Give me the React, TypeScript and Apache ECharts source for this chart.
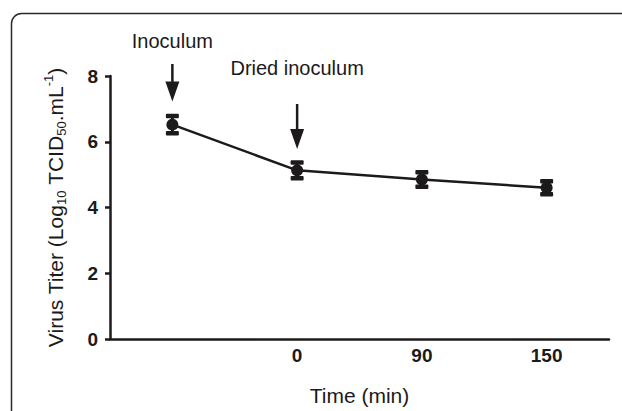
import React, { useEffect, useRef } from "react";
import * as echarts from "echarts";

// ---- data ----
const categories = ["", "0", "90", "150"];
const titerMean = [6.52, 5.13, 4.85, 4.6];
const titerError = [0.26, 0.24, 0.22, 0.2];
const yMin = 0;
const yMax = 8;
const yInterval = 2;
const annotationLabels = ["Inoculum", "Dried inoculum"];
const annotationCategory = [0, 1];

const INK = "#1c1a1a";
const FONT = "'Liberation Sans', Arial, Helvetica, sans-serif";

export default function App() {
  const ref = useRef<HTMLDivElement>(null);

  useEffect(() => {
    const chart = echarts.init(ref.current!, null, { renderer: "svg" });
    const errorData = categories.map((_, i) => [
      i,
      titerMean[i] - titerError[i],
      titerMean[i] + titerError[i],
    ]);

    chart.setOption({
      animation: false,
      backgroundColor: "#ffffff",
      grid: { left: 110, right: 13, top: 76, bottom: 68 },
      xAxis: {
        type: "category",
        data: categories,
        boundaryGap: true,
        name: "Time (min)",
        nameLocation: "middle",
        nameGap: 46,
        nameTextStyle: { fontFamily: FONT, fontSize: 21, color: INK },
        axisLine: { lineStyle: { color: INK, width: 2.5 } },
        axisTick: {
          alignWithLabel: true,
          length: 7,
          lineStyle: { color: INK, width: 2.5 },
          interval: (index: number) => index > 0,
        },
        axisLabel: {
          interval: 0,
          margin: 7,
          fontFamily: FONT,
          fontSize: 19,
          fontWeight: "bold",
          color: INK,
        },
        splitLine: { show: false },
      },
      yAxis: {
        type: "value",
        min: yMin,
        max: yMax,
        interval: yInterval,
        name: "Virus Titer (Log{sub|10} TCID{sub|50}.mL{sup|-1})",
        nameLocation: "middle",
        nameGap: 42,
        nameRotate: 90,
        nameTextStyle: {
          fontFamily: FONT,
          fontSize: 21,
          color: INK,
          lineHeight: 26,
          rich: {
            sub: {
              fontFamily: FONT,
              fontSize: 13,
              lineHeight: 13,
              color: INK,
              verticalAlign: "bottom",
            },
            sup: {
              fontFamily: FONT,
              fontSize: 13,
              lineHeight: 13,
              color: INK,
              verticalAlign: "top",
            },
          },
        },
        axisLine: { show: true, lineStyle: { color: INK, width: 2.5 } },
        axisTick: { show: true, length: 5, lineStyle: { color: INK, width: 2.5 } },
        axisLabel: {
          margin: 12,
          fontFamily: FONT,
          fontSize: 19,
          fontWeight: "bold",
          color: INK,
        },
        splitLine: { show: false },
      },
      series: [
        {
          type: "line",
          data: titerMean,
          symbol: "circle",
          symbolSize: 12,
          itemStyle: { color: INK },
          lineStyle: { color: INK, width: 2.5 },
          z: 3,
        },
        {
          type: "custom",
          data: errorData,
          encode: { x: 0, y: [1, 2] },
          z: 4,
          renderItem: (params: any, api: any) => {
            const lo = api.coord([api.value(0), api.value(1)]);
            const hi = api.coord([api.value(0), api.value(2)]);
            const x = lo[0];
            const capW = 13;
            const capH = 4.5;
            return {
              type: "group",
              children: [
                {
                  type: "line",
                  shape: { x1: x, y1: lo[1], x2: x, y2: hi[1] },
                  style: { stroke: INK, lineWidth: 3 },
                },
                {
                  type: "rect",
                  shape: { x: x - capW / 2, y: hi[1] - capH / 2, width: capW, height: capH, r: 1 },
                  style: { fill: INK },
                },
                {
                  type: "rect",
                  shape: { x: x - capW / 2, y: lo[1] - capH / 2, width: capW, height: capH, r: 1 },
                  style: { fill: INK },
                },
              ],
            };
          },
        },
      ],
    });

    // annotations: arrows + labels placed above the first two points
    const arrowTops = [64, 104];
    const arrowTips = [101.5, 149];
    const labelCenters = [40.5, 68];
    const elements: any[] = [
      {
        type: "rect",
        z: -1,
        shape: { x: 11.5, y: 13.5, width: 700, height: 500, r: 10 },
        style: { fill: "none", stroke: "#2a2a2a", lineWidth: 1.5 },
        silent: true,
      },
    ];
    annotationLabels.forEach((label, k) => {
      const px = chart.convertToPixel({ seriesIndex: 0 }, [
        annotationCategory[k],
        titerMean[annotationCategory[k]],
      ]) as number[];
      const x = px[0];
      const headH = 20;
      const headW = 14;
      elements.push(
        {
          type: "text",
          x,
          y: labelCenters[k],
          style: {
            text: label,
            fontFamily: FONT,
            fontSize: 20,
            fill: INK,
            align: "center",
            verticalAlign: "middle",
          },
        },
        {
          type: "line",
          shape: { x1: x, y1: arrowTops[k], x2: x, y2: arrowTips[k] - headH + 2 },
          style: { stroke: INK, lineWidth: 2.5 },
        },
        {
          type: "polygon",
          shape: {
            points: [
              [x - headW / 2, arrowTips[k] - headH],
              [x + headW / 2, arrowTips[k] - headH],
              [x, arrowTips[k]],
            ],
          },
          style: { fill: INK },
        }
      );
    });
    chart.setOption({ graphic: { elements } });

    return () => chart.dispose();
  }, []);

  return (
    <div
      ref={ref}
      style={{ position: "fixed", left: 0, top: 0, width: 622, height: 411 }}
    />
  );
}
